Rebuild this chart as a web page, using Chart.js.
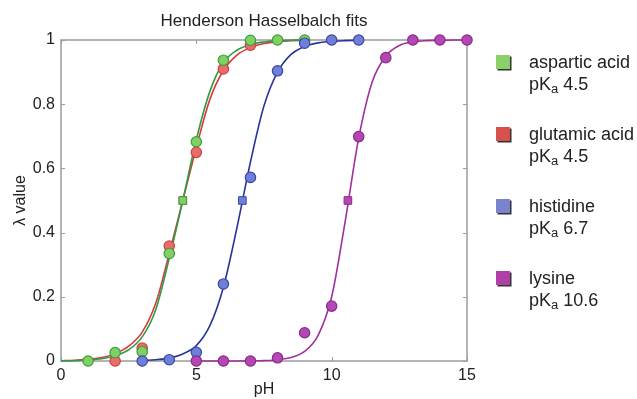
<!DOCTYPE html>
<html>
<head>
<meta charset="utf-8">
<script src="https://cdn.jsdelivr.net/npm/chart.js@4"></script>
<style>
  body { margin: 0; background: #fff; }
  #wrap { position: relative; width: 637px; height: 399px; }
  #legend { position: absolute; left: 496px; top: 51px; font-family: "Liberation Sans", Arial, sans-serif; font-size: 18px; color: #222; }
  .item { position: relative; padding-left: 33px; line-height: 22px; margin-bottom: 28px; }
  .sq { position: absolute; left: 0; top: 4px; width: 14px; height: 14px; box-shadow: 1.5px 1.5px 0 #333; }
  sub { font-size: 13px; vertical-align: -3px; line-height: 0; }
</style>
</head>
<body>
<div id="wrap">
  <canvas id="myChart" width="637" height="399"></canvas>
  <div id="legend"></div>
</div>
<script>
const acids = ['aspartic acid', 'glutamic acid', 'histidine', 'lysine'];
const pKa = [4.5, 4.5, 6.7, 10.6];

const lineColors = ['#2f9a48', '#d83a3a', '#26369a', '#a0309f'];
const fillColors = ['#80d064', '#ee6b6b', '#6f7fd6', '#b347b3'];
const edgeColors = ['#3f9d3f', '#c84444', '#3948a8', '#8a2a8a'];
const legendColors = ['#8cd06a', '#d8504a', '#7a84cc', '#b040a8'];

// measured points
const aspPH = [1, 2, 3, 4, 5, 6, 7, 8, 9];
const aspVal = [0.0, 0.026, 0.029, 0.335, 0.683, 0.937, 0.999, 1.0, 1.0];
const gluPH = [2, 3, 4, 5, 6, 7];
const gluVal = [0.0, 0.04, 0.358, 0.65, 0.91, 0.984];
const hisPH = [3, 4, 5, 6, 7, 8, 9, 10, 11];
const hisVal = [0.0, 0.004, 0.027, 0.24, 0.572, 0.904, 0.99, 1.0, 1.0];
const lysPH = [5, 6, 7, 8, 9, 10, 11, 12, 13, 14, 15];
const lysVal = [0.0, 0.0, 0.0, 0.01, 0.088, 0.171, 0.699, 0.945, 1.0, 1.0, 1.0];

// fitted curves
const curvePH = [0, 0.5, 1, 1.5, 2, 2.5, 3, 3.5, 4, 4.5, 5, 5.5, 6, 6.5, 7, 7.5,
  8, 8.5, 9, 9.5, 10, 10.5, 11, 11.5, 12, 12.5, 13, 13.5, 14, 14.5, 15];
const aspCurve = [0.0005, 0.001, 0.003, 0.007, 0.016, 0.035, 0.075, 0.16, 0.32, 0.5, 0.69, 0.84, 0.93, 0.968, 0.986, 0.994,
  0.998, 0.999, 1.0, null, null, null, null, null, null, null, null, null, null, null, null];
const gluCurve = [0.001, 0.0025, 0.005, 0.011, 0.023, 0.046, 0.09, 0.18, 0.335, 0.5, 0.665, 0.815, 0.905, 0.953, 0.977, 0.989,
  0.995, 0.998, 0.999, null, null, null, null, null, null, null, null, null, null, null, null];
const hisCurve = [null, null, null, null, null, null, 0.002, 0.004, 0.009, 0.022, 0.048, 0.11, 0.23, 0.415, 0.62, 0.795,
  0.9, 0.955, 0.98, 0.991, 0.996, 0.998, 0.999, null, null, null, null, null, null, null, null];
const lysCurve = [null, null, null, null, null, null, null, null, null, null, 0.0, 0.0, 0.0001, 0.0002, 0.0005, 0.0013,
  0.004, 0.011, 0.03, 0.08, 0.2, 0.435, 0.695, 0.87, 0.95, 0.983, 0.994, 0.998, 0.999, 1.0, 1.0];

const xTicks = [0, 5, 10, 15];
const chartTitle = 'Henderson Hasselbalch fits';

const pointsPH = [aspPH, gluPH, hisPH, lysPH];
const pointsVal = [aspVal, gluVal, hisVal, lysVal];
const curves = [aspCurve, gluCurve, hisCurve, lysCurve];

let toXY = (xs, ys) => xs.map((x, i) => ({x: x, y: ys[i]})).filter(p => p.y !== null);

// draw order on top: lysine, histidine, aspartic, glutamic
const pointRank = [2, 3, 1, 0];

const datasets = [];
acids.forEach((name, i) => {
  datasets.push({
    label: name + ' fit',
    data: toXY(curvePH, curves[i]),
    showLine: true,
    borderColor: lineColors[i],
    borderWidth: 1.6,
    pointRadius: 0,
    cubicInterpolationMode: 'monotone',
    clip: false,
    order: 20 + pointRank[i]
  });
  datasets.push({
    label: name,
    data: toXY(pointsPH[i], pointsVal[i]),
    backgroundColor: fillColors[i],
    borderColor: edgeColors[i],
    borderWidth: 1.2,
    pointRadius: 5.2,
    clip: false,
    order: 10 + pointRank[i]
  });
  datasets.push({
    label: name + ' pKa',
    data: [{x: pKa[i], y: 0.5}],
    pointStyle: 'rect',
    backgroundColor: fillColors[i],
    borderColor: edgeColors[i],
    borderWidth: 1,
    pointRadius: 5.4,
    clip: false,
    order: pointRank[i]
  });
});

const fontFamily = '"Liberation Sans", Arial, sans-serif';
const font = {family: fontFamily, size: 16};

// box round the plot with inward tick marks, and the title over the plot
const frame = {
  id: 'frame',
  beforeDatasetsDraw(chart) {
    const {ctx, chartArea: a, scales: {x, y}} = chart;
    ctx.save();
    ctx.strokeStyle = '#9c9c9c';
    ctx.lineWidth = 1.5;
    ctx.strokeRect(a.left, a.top, a.right - a.left, a.bottom - a.top);
    ctx.lineWidth = 1;
    ctx.beginPath();
    x.ticks.forEach(t => {
      const px = Math.round(x.getPixelForValue(t.value)) + 0.5;
      ctx.moveTo(px, a.bottom); ctx.lineTo(px, a.bottom - 4);
      ctx.moveTo(px, a.top); ctx.lineTo(px, a.top + 4);
    });
    y.ticks.forEach(t => {
      const py = Math.round(y.getPixelForValue(t.value)) + 0.5;
      ctx.moveTo(a.left, py); ctx.lineTo(a.left + 4, py);
      ctx.moveTo(a.right, py); ctx.lineTo(a.right - 4, py);
    });
    ctx.stroke();
    ctx.fillStyle = '#222';
    ctx.font = '17px ' + fontFamily;
    ctx.textAlign = 'center';
    ctx.textBaseline = 'middle';
    ctx.fillText(chartTitle, (a.left + a.right) / 2, 21);
    ctx.restore();
  }
};

new Chart(document.getElementById('myChart'), {
  type: 'scatter',
  data: {datasets: datasets},
  options: {
    responsive: false,
    animation: false,
    layout: {padding: {left: 0, right: 170, top: 40, bottom: 0}},
    plugins: {
      legend: {display: false},
      tooltip: {enabled: false}
    },
    scales: {
      x: {
        type: 'linear',
        min: 0, max: 15,
        afterBuildTicks: s => { s.ticks = xTicks.map(v => ({value: v})); },
        afterFit: s => { s.height = 38; },
        grid: {display: false, drawTicks: false},
        border: {display: false},
        ticks: {color: '#222', font: font, padding: 5, maxRotation: 0},
        title: {display: true, text: 'pH', color: '#222', font: font, padding: {top: 0, bottom: 0}}
      },
      y: {
        min: 0, max: 1,
        afterFit: s => { s.width = 61; },
        grid: {display: false, drawTicks: false},
        border: {display: false},
        ticks: {stepSize: 0.2, color: '#222', font: font, padding: 6,
          callback: v => String(Math.round(v * 10) / 10)},
        title: {display: true, text: 'λ value', color: '#222', font: font, padding: {top: 11, bottom: 0}}
      }
    }
  },
  plugins: [frame]
});

// legend with subscript a in pKa
document.getElementById('legend').innerHTML = acids.map((name, i) =>
  '<div class="item"><span class="sq" style="background:' + legendColors[i] + '"></span>' +
  name + '<br>pK<sub>a</sub> ' + pKa[i] + '</div>').join('');
</script>
</body>
</html>
